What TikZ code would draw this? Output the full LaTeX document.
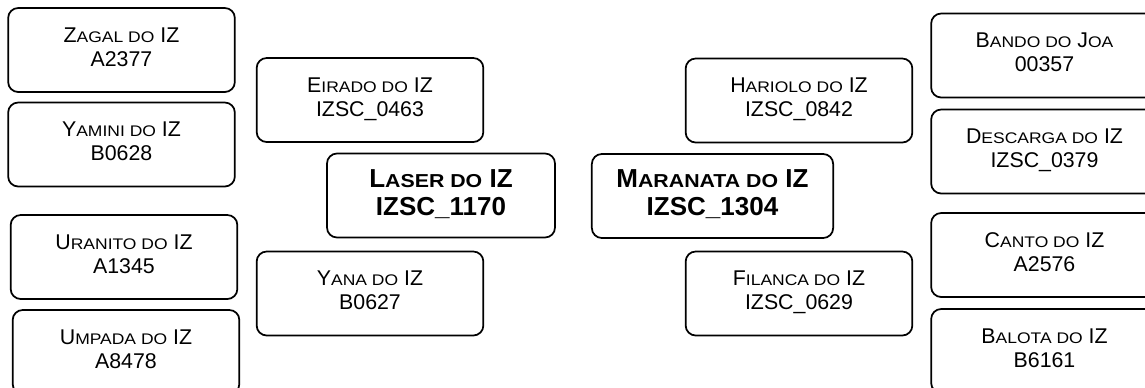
\documentclass[tikz,border=0pt]{standalone}
\usepackage{fontspec}
\setmainfont{Liberation Sans}
\newcommand{\smc}[1]{\scalebox{0.82}[0.72]{\MakeUppercase{#1}}}

\begin{document}
\begin{tikzpicture}[x=0.75pt, y=-0.75pt,
    animal/.style={draw, line width=1.3pt, rounded corners=7.5pt,
                   minimum width=170pt, minimum height=63pt, inner sep=0pt,
                   align=center, font=\fontsize{16}{18}\selectfont,
                   execute at end node={\rule[-5pt]{0pt}{5pt}}},
    focal/.style={animal, font=\fontsize{19.5}{21}\selectfont\bfseries,
                  execute at end node={}}]
  \useasboundingbox (0,0) rectangle (1145,387);
  \node[animal] (zagal)   at (121.5,50)  {Z\smc{agal do} IZ\\A2377};
  \node[animal] (yamini)  at (121.5,144.5) {Y\smc{amini do} IZ\\B0628};
  \node[animal] (uranito) at (124,257)   {U\smc{ranito do} IZ\\A1345};
  \node[animal] (umpada)  at (126,352)   {U\smc{mpada do} IZ\\A8478};
  \node[animal] (eirado)  at (370,100)   {E\smc{irado do} IZ\\IZSC\_0463};
  \node[focal, minimum width=171pt] (laser) at (441,195.5) {L\smc{aser do} IZ\\IZSC\_1170};
  \node[animal] (yana)    at (370,293.5) {Y\smc{ana do} IZ\\B0627};
  \node[animal] (hariolo) at (799,100.5) {H\smc{ariolo do} IZ\\IZSC\_0842};
  \node[focal, minimum width=181pt] (maranata) at (712.5,196) {M\smc{aranata do} IZ\\IZSC\_1304};
  \node[animal] (filanca) at (799,293.5) {F\smc{ilanca do} IZ\\IZSC\_0629};
  \node[animal] (bando)   at (1044.5,55.5) {B\smc{ando do} J\smc{oa}\\00357};
  \node[animal] (descarga) at (1044.5,151.5) {D\smc{escarga do} IZ\\IZSC\_0379};
  \node[animal] (canto)   at (1044.5,255) {C\smc{anto do} IZ\\A2576};
  \node[animal] (balota)  at (1044.5,351) {B\smc{alota do} IZ\\B6161};
\end{tikzpicture}
\end{document}
